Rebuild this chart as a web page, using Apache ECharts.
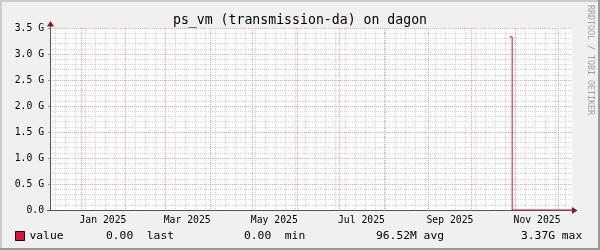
<!DOCTYPE html>
<html>
<head>
<meta charset="utf-8">
<script src="https://cdn.jsdelivr.net/npm/echarts@6/dist/echarts.min.js"></script>
<style>
html,body{margin:0;padding:0;background:#f0f0f0;}
#c{width:600px;height:250px;}
</style>
</head>
<body>
<div id="c"></div>
<script>
// ---- data ----
const chartTitle = 'ps_vm (transmission-da) on dagon';
const seriesName = 'value';
const sampleTimes = ['2025-10-27T19:00:00Z', '2025-10-29T14:00:00Z', '2025-12-10T12:00:00Z'];
const sampleValues = [3.33e9, 0, 0];
const axisStart = '2024-12-09T22:00:00Z';
const axisEnd = '2025-12-10T12:00:00Z';
const monthGridDates = ['2025-01-01','2025-02-01','2025-03-01','2025-04-01','2025-05-01','2025-06-01',
  '2025-07-01','2025-08-01','2025-09-01','2025-10-01','2025-11-01','2025-12-01'];
const monthLabelDates = ['2025-01-16','2025-03-16','2025-05-16','2025-07-16','2025-09-16','2025-11-16'];
const monthNames = ['Jan','Feb','Mar','Apr','May','Jun','Jul','Aug','Sep','Oct','Nov','Dec'];
const firstWeekLine = '2024-12-14';
const yTickLabels = ['0.0','0.5 G','1.0 G','1.5 G','2.0 G','2.5 G','3.0 G','3.5 G'];
const yMax = 3.5e9;
const yStep = 0.5e9;
const statValues = ['0.00', '0.00', '96.52M', '3.37G'];
const statUnits = [' ', ' ', '', ''];
const statNames = ['last', 'min', 'avg', 'max'];

// ---- styles ----
const MONO = '"DejaVu Sans Mono", monospace';
const MAJOR = '#f2a0a0';
const MINOR = '#d4d4d4';
const AXIS = '#555555';
const ARROW = '#8b1a1a';
const LINE = '#cc1136';

const ts = s => Date.parse(s.length === 10 ? s + 'T00:00:00Z' : s);
const tMin = ts(axisStart), tMax = ts(axisEnd);

const chart = echarts.init(document.getElementById('c'), null, {renderer: 'canvas'});

chart.setOption({
  animation: false,
  backgroundColor: '#f0f0f0',
  title: {
    text: chartTitle, left: 'center', top: 14, padding: 0,
    textStyle: {fontFamily: MONO, fontSize: 13.2, fontWeight: 'normal', color: '#000'}
  },
  legend: {
    data: [seriesName], left: 15, top: 230.5, padding: 0,
    icon: 'rect', itemWidth: 9, itemHeight: 9,
    itemStyle: {color: '#dc143c', borderColor: '#000', borderWidth: 1},
    textStyle: {fontFamily: MONO, fontSize: 11.3, color: '#000'},
    selectedMode: false
  },
  grid: {left: 50, right: 28, top: 28, bottom: 40, show: true, backgroundColor: '#fff', borderWidth: 0},
  xAxis: {
    type: 'value', min: tMin, max: tMax, scale: true,
    axisLine: {show: true, onZero: false, lineStyle: {color: AXIS, width: 1}},
    axisTick: {show: false},
    splitLine: {show: false},
    axisLabel: {
      customValues: monthLabelDates.map(ts),
      formatter: v => { const d = new Date(v); return monthNames[d.getUTCMonth()] + ' ' + d.getUTCFullYear(); },
      fontFamily: MONO, fontSize: 9.75, color: '#000', margin: 5, hideOverlap: false
    }
  },
  yAxis: {
    type: 'value', min: 0, max: yMax, interval: yStep,
    axisLine: {show: true, lineStyle: {color: AXIS, width: 1}},
    axisTick: {show: true, length: 2, lineStyle: {color: '#999'}},
    axisLabel: {
      formatter: v => yTickLabels[Math.round(v / yStep)],
      fontFamily: MONO, fontSize: 9.75, color: '#000', margin: 6
    },
    splitLine: {show: true, lineStyle: {color: MAJOR, width: 1, type: [1, 1]}},
    minorTick: {show: false, splitNumber: 5},
    minorSplitLine: {show: true, lineStyle: {color: MINOR, width: 1, type: [1, 1]}}
  },
  series: [{
    name: seriesName, type: 'line', step: 'end', showSymbol: false, symbol: 'none', z: 5,
    color: LINE,
    lineStyle: {color: LINE, width: 1},
    data: sampleTimes.map((t, i) => [ts(t), sampleValues[i]])
  }]
});

// grid lines, axis arrows, frame and stats text, positioned through the chart's scales
const px = (t, v) => chart.convertToPixel({gridIndex: 0}, [t, v]);
const [xl, yb] = px(tMin, 0);
const [xr, yt] = px(tMax, yMax);
const crisp = x => Math.round(x - 0.5) + 0.5;
const g = [];
function vline(t, color, z) {
  const x = crisp(px(t, 0)[0]);
  g.push({type: 'line', z: z, silent: true,
    shape: {x1: x, y1: yt, x2: x, y2: yb},
    style: {stroke: color, lineWidth: 1, lineDash: [1, 1]}});
}
for (let t = ts(firstWeekLine); t < tMax; t += 7 * 86400000) vline(t, MINOR, 1);
monthGridDates.forEach(d => vline(ts(d), MAJOR, 2));

const yAx = crisp(yb), xAx = crisp(xl);
g.push({type: 'line', z: 6, silent: true, shape: {x1: xl - 3, y1: yAx, x2: xl, y2: yAx}, style: {stroke: AXIS, lineWidth: 1}});
g.push({type: 'line', z: 6, silent: true, shape: {x1: xAx, y1: yt - 2, x2: xAx, y2: yt}, style: {stroke: AXIS, lineWidth: 1}});
g.push({type: 'polygon', z: 6, silent: true,
  shape: {points: [[xr, yAx - 3.5], [xr + 5.5, yAx], [xr, yAx + 3.5]]}, style: {fill: ARROW}});
g.push({type: 'polygon', z: 6, silent: true,
  shape: {points: [[xAx - 3.5, yt - 1.5], [xAx, yt - 7], [xAx + 3.5, yt - 1.5]]}, style: {fill: ARROW}});

// frame
g.push({type: 'rect', z: 10, silent: true, shape: {x: 0, y: 0, width: 600, height: 2}, style: {fill: '#cbcbcb'}});
g.push({type: 'rect', z: 10, silent: true, shape: {x: 0, y: 0, width: 2, height: 250}, style: {fill: '#cbcbcb'}});
g.push({type: 'rect', z: 10, silent: true, shape: {x: 0, y: 248, width: 600, height: 2}, style: {fill: '#999'}});
g.push({type: 'rect', z: 10, silent: true, shape: {x: 598, y: 0, width: 2, height: 250}, style: {fill: '#999'}});

// watermark
g.push({type: 'text', z: 10, silent: true, x: 590.5, y: 5, rotation: -Math.PI / 2,
  style: {text: 'RRDTOOL / TOBI OETIKER', font: '8.3px ' + MONO, fill: '#a0a0a0',
    textAlign: 'left', textVerticalAlign: 'middle'}});

// legend statistics (GPRINT-style: value, unit, name)
const statX = [106, 244, 376, 521];
statValues.forEach((s, i) => {
  g.push({type: 'text', z: 10, silent: true, x: statX[i], y: 236,
    style: {text: s + statUnits[i] + ' ' + statNames[i], font: '11.3px ' + MONO, fill: '#000',
      textAlign: 'left', textVerticalAlign: 'middle'}});
});

chart.setOption({graphic: {elements: g}});
</script>
</body>
</html>
